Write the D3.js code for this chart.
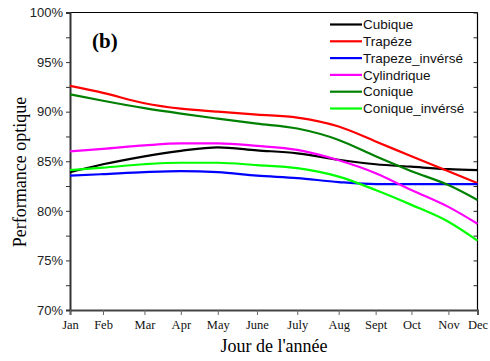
<!DOCTYPE html>
<html>
<head>
    <meta charset="utf-8" />
    <title>Performance optique</title>
    <style>
        body { margin: 0; background: #fff; }
        .tick-y text { font-family: "Liberation Sans", Arial, sans-serif; font-size: 13px; fill: #222; }
        .tick-x text { font-family: "Liberation Serif", "Times New Roman", serif; font-size: 12.5px; fill: #111; }
        .legend text { font-family: "Liberation Sans", Arial, sans-serif; font-size: 13.5px; fill: #111; }
    </style>
</head>
<body>
    <div id="chart"></div>
    <script src="https://cdn.jsdelivr.net/npm/d3@7/dist/d3.min.js"></script>
    <script>
        // month labels and the day of year where each tick sits
        var months = ["Jan", "Feb", "Mar", "Apr", "May", "June", "July", "Aug", "Sept", "Oct", "Nov", "Dec"];
        var monthDays = [1, 30.5, 67.5, 100, 133, 168, 204, 241, 274, 306, 339, 365];

        var cubique = [83.9, 84.7, 85.5, 86.05, 86.4, 86.1, 85.8, 85.15, 84.7, 84.45, 84.2, 84.1];
        var trapeze = [92.6, 91.9, 90.85, 90.3, 90.0, 89.7, 89.4, 88.5, 87.0, 85.5, 84.0, 82.8];
        var trapezeInv = [83.55, 83.7, 83.9, 84.0, 83.9, 83.55, 83.3, 82.9, 82.7, 82.7, 82.7, 82.7];
        var cylindrique = [86.0, 86.25, 86.6, 86.8, 86.8, 86.55, 86.15, 85.1, 83.8, 82.1, 80.4, 78.7];
        var conique = [91.75, 91.1, 90.35, 89.8, 89.3, 88.8, 88.3, 87.15, 85.5, 84.0, 82.6, 81.1];
        var coniqueInv = [84.1, 84.35, 84.7, 84.85, 84.85, 84.6, 84.3, 83.45, 82.1, 80.6, 78.9, 77.0];

        var seriesNames = ["Cubique", "Trapéze", "Trapeze_invérsé", "Cylindrique", "Conique", "Conique_invérsé"];
        var seriesValues = [cubique, trapeze, trapezeInv, cylindrique, conique, coniqueInv];
        var seriesColors = ["#000000", "#ff0000", "#0000ff", "#ff00ff", "#008000", "#00ff00"];

        var yTicks = [70, 75, 80, 85, 90, 95, 100];

        var width = 490, height = 361;
        var margin = { left: 70, right: 12.5, top: 12.5, bottom: 51 };

        var svg = d3.select("#chart").append("svg")
            .attr("width", width)
            .attr("height", height);

        var x = d3.scaleLinear()
            .domain([1, 365])
            .range([margin.left, width - margin.right]);
        var y = d3.scaleLinear()
            .domain([70, 100])
            .range([height - margin.bottom, margin.top]);

        // frame: thin top/right
        svg.append("line")
            .attr("x1", x(1)).attr("x2", x(365))
            .attr("y1", y(100)).attr("y2", y(100))
            .attr("stroke", "#000").attr("stroke-width", 1);
        svg.append("line")
            .attr("x1", x(365)).attr("x2", x(365))
            .attr("y1", y(100)).attr("y2", y(70))
            .attr("stroke", "#000").attr("stroke-width", 1.2);

        // right axis ticks pointing in
        svg.append("g")
            .attr("transform", "translate(" + x(365) + ",0)")
            .call(d3.axisRight(y).tickValues(d3.range(70, 100.1, 2.5)).tickSize(-4).tickFormat(""))
            .call(g => g.select(".domain").remove())
            .call(g => g.selectAll("line").attr("stroke", "#222"));

        // left axis
        svg.append("g")
            .attr("class", "tick-y")
            .attr("transform", "translate(" + x(1) + ",0)")
            .call(d3.axisLeft(y).tickValues(d3.range(72.5, 100, 5)).tickSize(4).tickFormat(""))
            .call(g => g.select(".domain").remove())
            .call(g => g.selectAll("line").attr("stroke", "#333"));
        svg.append("g")
            .attr("class", "tick-y")
            .attr("transform", "translate(" + x(1) + ",0)")
            .call(d3.axisLeft(y).tickValues(yTicks).tickSize(4).tickPadding(3).tickFormat(d => d + "%"))
            .call(g => g.select(".domain").attr("stroke", "#333").attr("stroke-width", 2))
            .call(g => g.selectAll("line").attr("stroke", "#333"));

        // bottom axis
        svg.append("g")
            .attr("class", "tick-x")
            .attr("transform", "translate(0," + y(70) + ")")
            .call(d3.axisBottom(x).tickValues(monthDays).tickSize(5).tickPadding(5).tickFormat((d, i) => months[i]))
            .call(g => g.select(".domain").attr("stroke", "#444").attr("stroke-width", 2))
            .call(g => g.selectAll("line").attr("stroke", "#666"));

        // curves
        var line = d3.line()
            .x((d, i) => x(monthDays[i]))
            .y(d => y(d))
            .curve(d3.curveMonotoneX);

        svg.append("g")
            .selectAll("path")
            .data(seriesValues)
            .join("path")
            .attr("fill", "none")
            .attr("stroke", (d, i) => seriesColors[i])
            .attr("stroke-width", 2.2)
            .attr("d", line);

        // legend
        var legend = svg.append("g")
            .attr("class", "legend")
            .attr("transform", "translate(330,24.5)");
        var rows = legend.selectAll("g")
            .data(seriesNames)
            .join("g")
            .attr("transform", (d, i) => "translate(0," + i * 16.8 + ")");
        rows.append("line")
            .attr("x1", 0).attr("x2", 32)
            .attr("stroke", (d, i) => seriesColors[i])
            .attr("stroke-width", 2.2);
        rows.append("text")
            .attr("x", 33)
            .attr("dy", "0.35em")
            .text(d => d);

        // panel label
        svg.append("text")
            .attr("x", 92).attr("y", 48)
            .attr("font-family", "Liberation Serif, Times New Roman, serif")
            .attr("font-weight", "bold")
            .attr("font-size", 21)
            .text("(b)");

        // axis titles
        svg.append("text")
            .attr("transform", "translate(26,172) rotate(-90)")
            .attr("text-anchor", "middle")
            .attr("font-family", "Liberation Serif, Times New Roman, serif")
            .attr("font-size", 18)
            .text("Performance optique");
        svg.append("text")
            .attr("x", 274).attr("y", 352)
            .attr("text-anchor", "middle")
            .attr("font-family", "Liberation Serif, Times New Roman, serif")
            .attr("font-size", 18)
            .text("Jour de l'année");
    </script>
</body>
</html>
